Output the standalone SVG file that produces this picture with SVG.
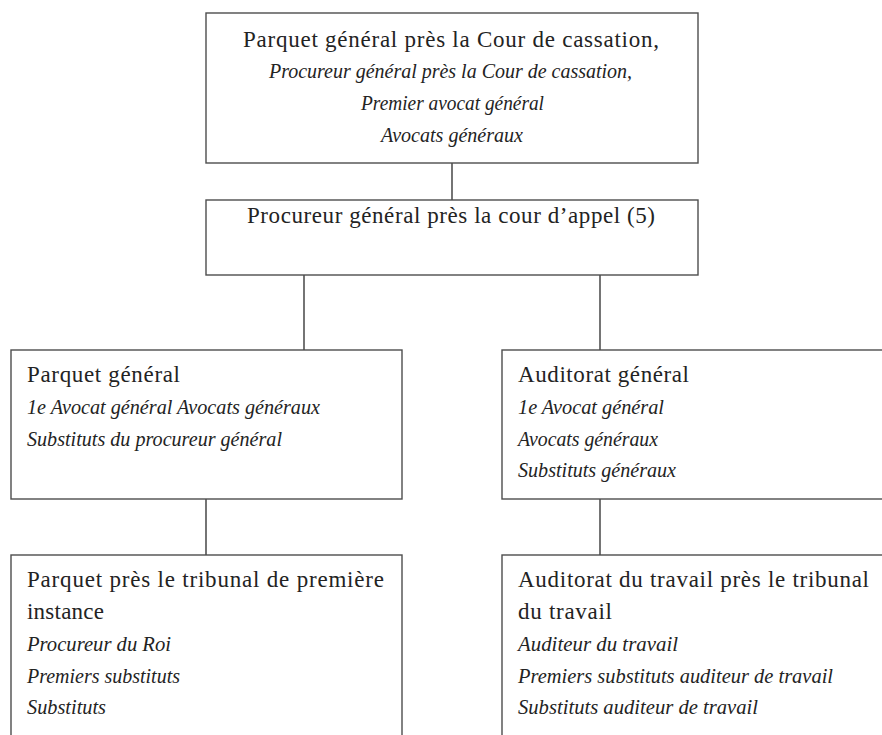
<svg xmlns="http://www.w3.org/2000/svg" width="882" height="735" viewBox="0 0 882 735">
<style>
  .box { fill: #ffffff; stroke: #4d4d4d; stroke-width: 1.4; }
  .conn { stroke: #3a3a3a; stroke-width: 1.4; fill: none; }
  text { font-family: "Liberation Serif", "Times New Roman", serif; font-size: 23px; fill: #232323; }
  .it { font-style: italic; font-size: 22px; }
  .c { text-anchor: middle; }
</style>
<rect width="882" height="735" fill="#ffffff"/>
<g id="connectors">
  <line class="conn" x1="452" y1="163" x2="452" y2="200"/>
  <line class="conn" x1="304" y1="275" x2="304" y2="350"/>
  <line class="conn" x1="600" y1="275" x2="600" y2="350"/>
  <line class="conn" x1="206" y1="499" x2="206" y2="555"/>
  <line class="conn" x1="600" y1="499" x2="600" y2="555"/>
</g>
<g id="cassation">
  <rect class="box" x="206" y="13" width="492" height="150"/>
  <text class="c" x="451" y="47" textLength="416" lengthAdjust="spacing">Parquet général près la Cour de cassation,</text>
  <text class="c it" x="450.5" y="78" textLength="363" lengthAdjust="spacingAndGlyphs">Procureur général près la Cour de cassation,</text>
  <text class="c it" x="452.5" y="110" textLength="183" lengthAdjust="spacingAndGlyphs">Premier avocat général</text>
  <text class="c it" x="452" y="142" textLength="142" lengthAdjust="spacingAndGlyphs">Avocats généraux</text>
</g>
<g id="cour-appel">
  <rect class="box" x="206" y="200" width="492" height="75"/>
  <text class="c" x="451" y="223" textLength="408" lengthAdjust="spacing">Procureur général près la cour d’appel (5)</text>
</g>
<g id="parquet-general">
  <rect class="box" x="11" y="350" width="391" height="149"/>
  <text x="27" y="382" textLength="153" lengthAdjust="spacing">Parquet général</text>
  <text class="it" x="27" y="414" textLength="293" lengthAdjust="spacingAndGlyphs">1e Avocat général Avocats généraux</text>
  <text class="it" x="27" y="446" textLength="255" lengthAdjust="spacingAndGlyphs">Substituts du procureur général</text>
</g>
<g id="auditorat-general">
  <rect class="box" x="502" y="350" width="390" height="149"/>
  <text x="518" y="382" textLength="171" lengthAdjust="spacing">Auditorat général</text>
  <text class="it" x="518" y="414" textLength="146" lengthAdjust="spacingAndGlyphs">1e Avocat général</text>
  <text class="it" x="518" y="446" textLength="140" lengthAdjust="spacingAndGlyphs">Avocats généraux</text>
  <text class="it" x="518" y="477" textLength="158" lengthAdjust="spacingAndGlyphs">Substituts généraux</text>
</g>
<g id="parquet-premiere-instance">
  <rect class="box" x="11" y="555" width="391" height="190"/>
  <text x="27" y="587" textLength="357" lengthAdjust="spacing">Parquet près le tribunal de première</text>
  <text x="27" y="619" textLength="77" lengthAdjust="spacing">instance</text>
  <text class="it" x="27" y="651" textLength="144" lengthAdjust="spacingAndGlyphs">Procureur du Roi</text>
  <text class="it" x="27" y="683" textLength="153" lengthAdjust="spacingAndGlyphs">Premiers substituts</text>
  <text class="it" x="27" y="714" textLength="79" lengthAdjust="spacingAndGlyphs">Substituts</text>
</g>
<g id="auditorat-travail">
  <rect class="box" x="502" y="555" width="390" height="190"/>
  <text x="518" y="587" textLength="351" lengthAdjust="spacing">Auditorat du travail près le tribunal</text>
  <text x="518" y="619" textLength="94" lengthAdjust="spacing">du travail</text>
  <text class="it" x="518" y="651" textLength="160" lengthAdjust="spacingAndGlyphs">Auditeur du travail</text>
  <text class="it" x="518" y="683" textLength="315" lengthAdjust="spacingAndGlyphs">Premiers substituts auditeur de travail</text>
  <text class="it" x="518" y="714" textLength="240" lengthAdjust="spacingAndGlyphs">Substituts auditeur de travail</text>
</g>
</svg>
